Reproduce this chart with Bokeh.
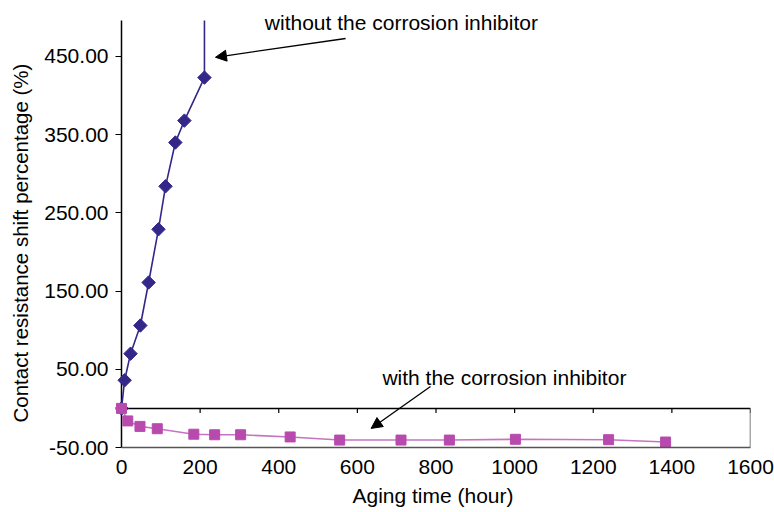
from bokeh.plotting import figure
from bokeh.models import (Range1d, FixedTicker, PrintfTickFormatter, Label,
                          Arrow, NormalHead, Title)
from bokeh.embed import file_html
from bokeh.resources import INLINE
import math

# ---- data ----
hours_without = [0, 8, 23, 48, 69, 94, 112, 137, 160, 211]
shift_without = [0, 36, 70, 106, 161, 229, 284, 340, 368, 423]
# the curve leaves the chart straight upward after the last measured point
hours_without_line = hours_without + [211]
shift_without_line = shift_without + [496]

hours_with = [0, 16, 47, 91, 184, 237, 303, 429, 555, 711, 834, 1002, 1239, 1384]
shift_with = [0, -16, -23, -26, -33, -33.7, -33.7, -36.5, -40.5, -40.5, -40.5, -39.5, -40, -43]

x_ticks = [0, 200, 400, 600, 800, 1000, 1200, 1400, 1600]
y_ticks = [-50, 50, 150, 250, 350, 450]

X_MIN, X_MAX = 0, 1600
Y_MIN, Y_MAX = -50, 496

FONT = "Liberation Sans"
FS = "21px"
TXT = "#000000"

p = figure(width=774, height=512, output_backend="svg", toolbar_location=None,
           x_range=Range1d(-15.26, 1600), y_range=Range1d(-50, 521.6),
           min_border_left=115, min_border_right=24, min_border_top=0,
           min_border_bottom=65)
p.outline_line_color = None
p.xgrid.visible = False
p.ygrid.visible = False
p.background_fill_color = "white"
p.border_fill_color = "white"

# y axis (ticks and labels; its line is drawn at x = 0 below)
ya = p.yaxis[0]
ya.ticker = FixedTicker(ticks=y_ticks)
ya.formatter = PrintfTickFormatter(format="%.2f")
ya.axis_line_color = None
ya.major_tick_out = 0
ya.major_tick_in = 6
ya.minor_tick_line_color = None
ya.major_label_standoff = 7
ya.major_tick_line_width = 1.2
ya.major_tick_line_color = "black"
ya.major_label_text_font = FONT
ya.major_label_text_font_size = FS
ya.major_label_text_color = TXT

# y axis title, placed as a side title so it can sit where the reference has it
p.add_layout(Title(text="Contact resistance shift percentage (%)", align="left",
                   vertical_align="top", offset=25, standoff=16, text_font=FONT,
                   text_font_size="20.5px", text_font_style="normal",
                   text_color=TXT), "left")

# x axis
xa = p.xaxis[0]
xa.ticker = FixedTicker(ticks=x_ticks)
xa.bounds = (X_MIN, X_MAX)
xa.major_tick_out = 0
xa.major_tick_in = 0
xa.minor_tick_line_color = None
xa.major_label_standoff = 12
xa.axis_line_color = "#555555"
xa.axis_line_width = 1.5
xa.major_label_text_font = FONT
xa.major_label_text_font_size = FS
xa.major_label_text_color = TXT
xa.axis_label = "Aging time (hour)"
xa.axis_label_text_font = FONT
xa.axis_label_text_font_size = FS
xa.axis_label_text_font_style = "normal"
xa.axis_label_text_color = TXT
xa.axis_label_standoff = 7

# vertical axis line at x = 0
p.segment(x0=[X_MIN], y0=[Y_MIN], x1=[X_MIN], y1=[Y_MAX], line_color="black", line_width=1.5)
# zero line with small ticks, and right border of the lower box
p.segment(x0=[X_MIN], y0=[0], x1=[X_MAX], y1=[0], line_color="black", line_width=1.5)
p.segment(x0=x_ticks, y0=[0] * len(x_ticks), x1=x_ticks, y1=[-6] * len(x_ticks),
          line_color="black", line_width=1.2)
p.segment(x0=[X_MAX], y0=[Y_MIN], x1=[X_MAX], y1=[0], line_color="#555555", line_width=1.5)

# series without inhibitor
navy = "#33278a"
p.line(hours_without_line, shift_without_line, line_color=navy, line_width=1.6)
p.scatter(hours_without, shift_without, marker="square", angle=math.pi / 4, size=9.5,
          fill_color=navy, line_color=navy)

# series with inhibitor
magenta = "#b84aae"
p.line(hours_with, shift_with, line_color="#c674bf", line_width=1.6)
p.scatter(hours_with, shift_with, marker="square", size=10,
          fill_color=magenta, line_color=magenta)

# annotations
p.add_layout(Label(x=712, y=493.4, text="without the corrosion inhibitor",
                   text_align="center", text_baseline="alphabetic",
                   text_font=FONT, text_font_size=FS, text_color=TXT))
p.add_layout(Label(x=974, y=40, text="with the corrosion inhibitor",
                   text_align="center", text_baseline="alphabetic",
                   text_font=FONT, text_font_size=FS, text_color=TXT))
p.add_layout(Arrow(end=NormalHead(size=11, fill_color="black", line_color="black"),
                   x_start=570, y_start=473, x_end=239, y_end=449,
                   line_color="black", line_width=1.3))
p.add_layout(Arrow(end=NormalHead(size=11, fill_color="black", line_color="black"),
                   x_start=786, y_start=28, x_end=635, y_end=-25.6,
                   line_color="black", line_width=1.3))

open("out.html", "w").write(file_html(p, INLINE))
